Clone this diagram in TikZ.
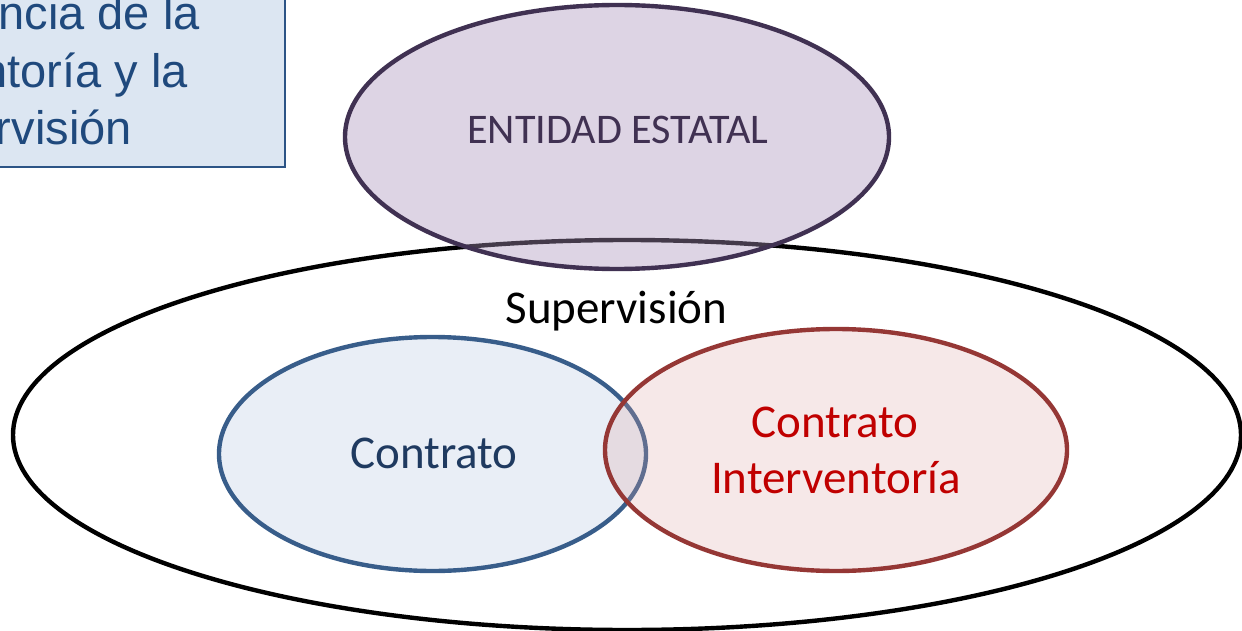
\documentclass[tikz,border=0pt]{standalone}
\usepackage{fontspec}
\setmainfont{Carlito}
\newfontfamily\arialfont{Liberation Sans}
\usetikzlibrary{shapes.geometric}
\definecolor{boxfill}{HTML}{DCE6F2}
\definecolor{boxline}{HTML}{2C5486}
\definecolor{boxtext}{HTML}{1F497D}
\definecolor{entline}{HTML}{403152}
\definecolor{entfill}{HTML}{AA93BB}
\definecolor{conline}{HTML}{385D8A}
\definecolor{confill}{HTML}{E9EEF6}
\definecolor{context}{HTML}{1F3A60}
\definecolor{intline}{HTML}{953735}
\definecolor{intfill}{HTML}{DBA3A3}
\definecolor{inttext}{HTML}{C00000}
\tikzset{
  oval/.style={ellipse, inner sep=0pt, line width=4.4pt},
  boxlbl/.style={anchor=base east, inner sep=0pt, text=boxtext, font=\arialfont\fontsize{47}{56}\selectfont},
  bigtxt/.style={anchor=base, inner sep=0pt, font=\fontsize{47}{56}\selectfont}
}
\begin{document}
\begin{tikzpicture}[x=1pt,y=-1pt]
\useasboundingbox (0,0) rectangle (1242,631);
% title box (cut by the page edge)
\path[fill=boxfill, draw=boxline, line width=2.5pt] (-30,-30) rectangle (285,167);
\node[boxlbl] (t1) at (200,30) {ncia de la};
\node[boxlbl] (t2) at (188,88) {ntoría y la};
\node[boxlbl] (t3) at (132,145) {rvisión};
% supervision ellipse
\node[oval, draw=black, minimum width=1228pt, minimum height=390pt] (sup) at (627,435) {};
% entidad estatal
\node[oval, draw=entline, fill=entfill, fill opacity=0.4, draw opacity=1, minimum width=544pt, minimum height=264pt] (ent) at (617,137) {};
\node[anchor=base, inner sep=0pt, text=entline, font=\fontsize{42.2}{50}\selectfont] (entl) at (618,144) {ENTIDAD ESTATAL};
\node[bigtxt] (supl) at (616.5,323) {Supervisión};
% contrato
\node[oval, draw=conline, fill=confill, minimum width=427pt, minimum height=234pt] (con) at (432.5,454) {};
\node[bigtxt, text=context] (conl) at (434,468) {Contrato};
% contrato interventoria
\node[oval, draw=intline, fill=intfill, fill opacity=0.25, draw opacity=1, minimum width=462pt, minimum height=242pt] (int) at (836,450) {};
\node[bigtxt, text=inttext] (intl1) at (835,437) {Contrato};
\node[bigtxt, text=inttext] (intl2) at (836,493) {Interventoría};
\end{tikzpicture}
\end{document}
